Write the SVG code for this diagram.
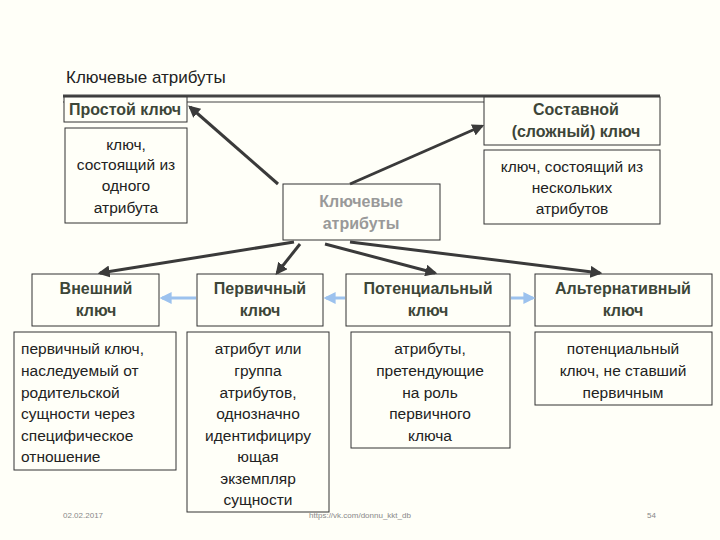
<svg xmlns="http://www.w3.org/2000/svg" width="720" height="540" viewBox="0 0 720 540">
<defs>
<style>
.bx{fill:#fffff8;stroke:#333;stroke-width:1}
.h{font-family:"Liberation Sans",Arial,sans-serif;font-size:16px;font-weight:bold;fill:#3d4638;text-anchor:middle}
.t{font-family:"Liberation Sans",Arial,sans-serif;font-size:15.5px;fill:#222;text-anchor:middle}
.tl{font-family:"Liberation Sans",Arial,sans-serif;font-size:15.5px;fill:#222}
.f{font-family:"Liberation Sans",Arial,sans-serif;font-size:8px;fill:#888}
.c{stroke:#3a3a3a;stroke-width:3;fill:none;marker-end:url(#ah)}
.b{stroke:#9cc2ee;stroke-width:3;fill:none;marker-end:url(#bh)}
</style>
<marker id="ah" viewBox="0 0 10 10" refX="8" refY="5" markerWidth="4" markerHeight="4" orient="auto"><path d="M0,0L10,5L0,10z" fill="#3a3a3a"/></marker>
<marker id="bh" viewBox="0 0 10 10" refX="8" refY="5" markerWidth="4" markerHeight="4" orient="auto"><path d="M0,0L10,5L0,10z" fill="#9cc2ee"/></marker>
</defs>
<rect width="720" height="540" fill="#fffff8"/>
<text x="66" y="83" font-family="Liberation Sans,Arial,sans-serif" font-size="17" fill="#222">Ключевые атрибуты</text>
<line x1="63" y1="96" x2="660" y2="96" stroke="#444" stroke-width="3"/>
<line x1="63" y1="102" x2="660" y2="102" stroke="#444" stroke-width="1"/>
<g id="simple"><rect class="bx" x="64" y="97" width="123" height="25"/><text class="h" x="125" y="115">Простой ключ</text></g>
<g id="simple-desc"><rect class="bx" x="65" y="128" width="122" height="95"/><text class="t" x="126" y="150">ключ,</text><text class="t" x="126" y="170">состоящий из</text><text class="t" x="126" y="191">одного</text><text class="t" x="126" y="213">атрибута</text></g>
<g id="composite"><rect class="bx" x="484" y="97" width="176" height="48"/><text class="h" x="576" y="115">Составной</text><text class="h" x="576" y="137">(сложный) ключ</text></g>
<g id="composite-desc"><rect class="bx" x="484" y="150" width="176" height="74"/><text class="t" x="572" y="172">ключ, состоящий из</text><text class="t" x="572" y="193">нескольких</text><text class="t" x="572" y="214">атрибутов</text></g>
<g id="center"><rect class="bx" x="283" y="184" width="157" height="56"/><text class="h" x="361" y="207" fill="#999" style="fill:#999">Ключевые</text><text class="h" x="361" y="229" style="fill:#999">атрибуты</text></g>
<g id="ext"><rect class="bx" x="32" y="274" width="127" height="52"/><text class="h" x="96" y="294">Внешний</text><text class="h" x="96" y="316">ключ</text></g>
<g id="prim"><rect class="bx" x="197" y="274" width="126" height="52"/><text class="h" x="260" y="294">Первичный</text><text class="h" x="260" y="316">ключ</text></g>
<g id="pot"><rect class="bx" x="346" y="274" width="164" height="52"/><text class="h" x="428" y="294">Потенциальный</text><text class="h" x="428" y="316">ключ</text></g>
<g id="alt"><rect class="bx" x="535" y="274" width="177" height="52"/><text class="h" x="623" y="294">Альтернативный</text><text class="h" x="623" y="316">ключ</text></g>
<g id="ext-desc"><rect class="bx" x="14" y="332" width="162" height="138"/><text class="tl" x="21" y="354">первичный ключ,</text><text class="tl" x="21" y="376">наследуемый от</text><text class="tl" x="21" y="398">родительской</text><text class="tl" x="21" y="419">сущности через</text><text class="tl" x="21" y="441">специфическое</text><text class="tl" x="21" y="462">отношение</text></g>
<g id="prim-desc"><rect class="bx" x="187" y="332" width="142" height="180"/><text class="t" x="258" y="354">атрибут или</text><text class="t" x="258" y="376">группа</text><text class="t" x="258" y="398">атрибутов,</text><text class="t" x="258" y="419">однозначно</text><text class="t" x="258" y="441">идентифициру</text><text class="t" x="258" y="462">ющая</text><text class="t" x="258" y="484">экземпляр</text><text class="t" x="258" y="505">сущности</text></g>
<g id="pot-desc"><rect class="bx" x="351" y="332" width="159" height="116"/><text class="t" x="430" y="354">атрибуты,</text><text class="t" x="430" y="376">претендующие</text><text class="t" x="430" y="398">на роль</text><text class="t" x="430" y="419">первичного</text><text class="t" x="430" y="441">ключа</text></g>
<g id="alt-desc"><rect class="bx" x="535" y="332" width="177" height="73"/><text class="t" x="623" y="354">потенциальный</text><text class="t" x="623" y="376">ключ, не ставший</text><text class="t" x="623" y="398">первичным</text></g>
<g id="connectors">
<line class="c" x1="278" y1="184" x2="190" y2="107"/>
<line class="c" x1="350" y1="184" x2="482" y2="126"/>
<line class="c" x1="294" y1="242" x2="100" y2="273"/>
<line class="c" x1="300" y1="244" x2="277" y2="273"/>
<line class="c" x1="325" y1="244" x2="435" y2="273"/>
<line class="c" x1="350" y1="242" x2="600" y2="273"/>
<line class="b" x1="196" y1="298" x2="162" y2="298"/>
<line class="b" x1="345" y1="298" x2="326" y2="298"/>
<line class="b" x1="511" y1="298" x2="533" y2="298"/>
</g>
<text class="f" x="63" y="518">02.02.2017</text>
<text class="f" x="360" y="518" text-anchor="middle">https://vk.com/donnu_kkt_db</text>
<text class="f" x="647" y="518">54</text>
</svg>
